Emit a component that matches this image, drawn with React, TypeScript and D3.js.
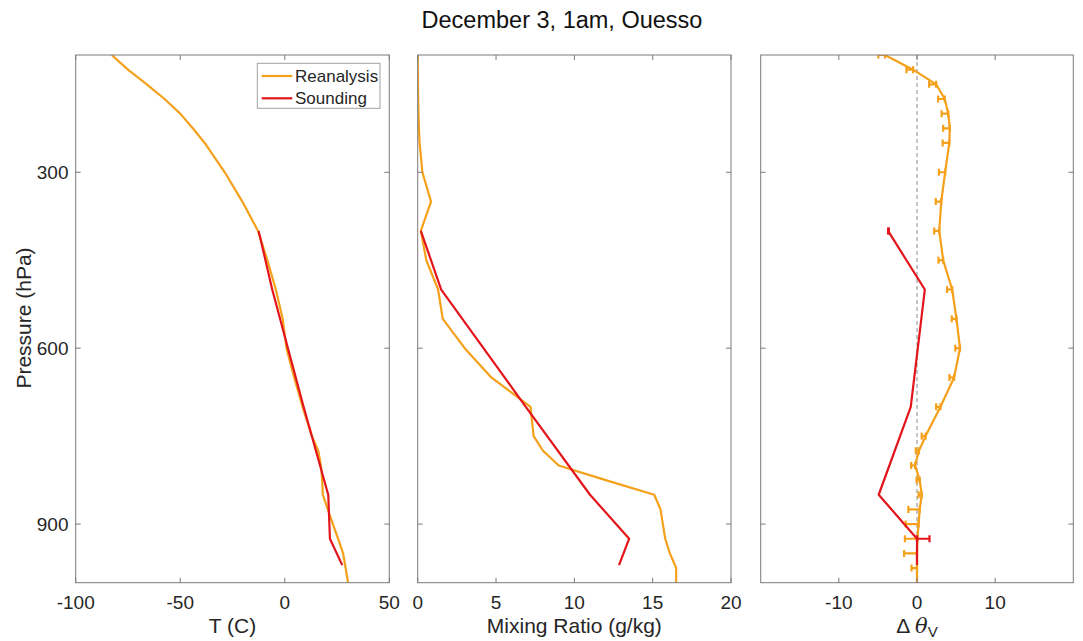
import React from 'react';
import * as d3 from 'd3';

const chartTitle = 'December 3, 1am, Ouesso';
const pressureTicks = [300, 600, 900];
const tempTicks = [-100, -50, 0, 50];
const mixTicks = [0, 5, 10, 15, 20];
const thetaTicks = [-10, 0, 10];
const legendLabels = ['Reanalysis', 'Sounding'];

const reanalysisP = [100, 125, 150, 175, 200, 225, 250, 300, 350, 400, 450, 500, 550, 600, 650, 700, 750, 775, 800, 825, 850, 875, 900, 925, 950, 975, 1000];
const reanalysisT = [-82.8, -75, -66, -57.5, -50, -44, -38.3, -28.7, -20.3, -12.8, -8.3, -4.3, -1.0, 0.8, 4.5, 8.5, 13, 16, 17.3, 17.9, 18.2, 20.6, 23.0, 25.5, 27.9, 29.1, 30.3];
const reanalysisQ = [0.0, 0.01, 0.02, 0.03, 0.05, 0.08, 0.12, 0.3, 0.85, 0.2, 0.55, 1.3, 1.6, 3.0, 4.7, 7.2, 7.4, 8.0, 9.0, 12.0, 15.1, 15.5, 15.65, 15.8, 16.1, 16.5, 16.5];
const reanalysisDTheta = [-4.1, -0.5, 2.45, 3.55, 4.0, 4.2, 4.13, 3.6, 3.1, 2.85, 3.35, 4.5, 5.05, 5.5, 4.75, 3.0, 1.1, 0.25, -0.25, 0.35, 0.6, 0.35, 0.2, 0.05, 0.0, 0.0, 0.0];
const reanalysisDThetaErr = [0.85, 0.85, 0.9, 0.85, 0.85, 0.85, 0.85, 0.8, 0.7, 0.65, 0.6, 0.65, 0.6, 0.6, 0.6, 0.55, 0.5, 0.4, 0.5, 0.4, 0.4, 1.45, 1.65, 1.6, 1.65, 0.7, null];

const soundingP = [400, 500, 700, 850, 925, 970];
const soundingT = [-12.5, -6, 9, 20.8, 21.6, 27.5];
const soundingQ = [0.2, 1.5, 6.9, 11.0, 13.5, 12.85];
const soundingDTheta = [-3.7, 1.0, -0.8, -4.9, 0.0, 0.0];
const soundingDThetaErr = [0.1, null, null, null, 1.6, null];

const ORANGE = '#F5A01A';
const RED = '#E3151C';
const AXIS = '#7a7a7a';
const TEXT = '#262626';
const FONT = 'Arial, "Liberation Sans", Helvetica, sans-serif';

const TOP = 55;
const BOTTOM = 582.7;

const panels = [
  { left: 75.7, right: 389.3, domain: [-100, 50], ticks: tempTicks, label: 'T (C)' },
  { left: 417.7, right: 731, domain: [0, 20], ticks: mixTicks, label: 'Mixing Ratio (g/kg)' },
  { left: 760.7, right: 1073.3, domain: [-20, 20], ticks: thetaTicks, label: 'theta' },
];

const y = d3.scaleLinear().domain([100, 1000]).range([TOP, BOTTOM]);

function Frame({ p, showY }: { p: any; showY: boolean }) {
  const x = d3.scaleLinear().domain(p.domain).range([p.left, p.right]);
  const tl = 5;
  return (
    <g>
      <rect x={p.left} y={TOP} width={p.right - p.left} height={BOTTOM - TOP} fill="none" stroke={AXIS} strokeWidth={1} />
      {p.ticks.map((t: number) => (
        <g key={'x' + t}>
          <line x1={x(t)} x2={x(t)} y1={BOTTOM} y2={BOTTOM - tl} stroke={AXIS} />
          <line x1={x(t)} x2={x(t)} y1={TOP} y2={TOP + tl} stroke={AXIS} />
          <text x={x(t)} y={609} textAnchor="middle" fontSize={19} fill={TEXT} fontFamily={FONT}>{t}</text>
        </g>
      ))}
      {pressureTicks.map((t) => (
        <g key={'y' + t}>
          <line x1={p.left} x2={p.left + tl} y1={y(t)} y2={y(t)} stroke={AXIS} />
          <line x1={p.right} x2={p.right - tl} y1={y(t)} y2={y(t)} stroke={AXIS} />
          {showY && (
            <text x={68.5} y={y(t) + 7} textAnchor="end" fontSize={19} fill={TEXT} fontFamily={FONT}>{t}</text>
          )}
        </g>
      ))}
    </g>
  );
}

function ErrorBars({ xs, ps, errs, x, color }: any) {
  return (
    <g>
      {xs.map((v: number, i: number) => {
        const e = errs[i];
        if (e === null || e === undefined) return null;
        const yy = y(ps[i]);
        // reanalysis errors extend to the left, sounding errors to the right
        const x0 = color === ORANGE ? x(v - e) : x(v);
        const x1 = color === ORANGE ? x(v) : x(v + e);
        return (
          <g key={i} stroke={color} strokeWidth={2.2}>
            <line x1={x0} x2={x1} y1={yy} y2={yy} />
            <line x1={x0} x2={x0} y1={yy - 3.5} y2={yy + 3.5} />
            <line x1={x1} x2={x1} y1={yy - 3.5} y2={yy + 3.5} />
          </g>
        );
      })}
    </g>
  );
}

export default function App() {
  const xT = d3.scaleLinear().domain(panels[0].domain).range([panels[0].left, panels[0].right]);
  const xQ = d3.scaleLinear().domain(panels[1].domain).range([panels[1].left, panels[1].right]);
  const xD = d3.scaleLinear().domain(panels[2].domain).range([panels[2].left, panels[2].right]);

  const mk = (xs: number[], ps: number[], sx: any) =>
    d3.line<number>().x((d) => sx(d)).y((_, i) => y(ps[i]))(xs) || '';

  return (
    <svg width={1083} height={641} style={{ position: 'absolute', left: 0, top: 0, background: '#fff' }}>
      <rect x={0} y={0} width={1083} height={641} fill="#fff" />
      <defs>
        {panels.map((p, i) => (
          <clipPath id={'clip' + i} key={i}>
            <rect x={p.left} y={TOP} width={p.right - p.left} height={BOTTOM - TOP} />
          </clipPath>
        ))}
      </defs>
      <text x={562} y={28} textAnchor="middle" fontSize={23.5} fill="#111" fontFamily={FONT}>{chartTitle}</text>

      {/* Panel 1: temperature */}
      <g clipPath="url(#clip0)" fill="none" strokeWidth={2.2} strokeLinejoin="round">
        <path d={mk(reanalysisT, reanalysisP, xT)} stroke={ORANGE} />
        <path d={mk(soundingT, soundingP, xT)} stroke={RED} />
      </g>
      <Frame p={panels[0]} showY={true} />
      <g>
        <rect x={257.3} y={63.3} width={122.7} height={45} fill="#fff" stroke="#a0a0a0" strokeWidth={1} />
        <line x1={261.7} x2={292.3} y1={76} y2={76} stroke={ORANGE} strokeWidth={2.2} />
        <line x1={261.7} x2={292.3} y1={98.3} y2={98.3} stroke={RED} strokeWidth={2.2} />
        <text x={295} y={82} fontSize={17} fill={TEXT} fontFamily={FONT}>{legendLabels[0]}</text>
        <text x={295} y={104.3} fontSize={17} fill={TEXT} fontFamily={FONT}>{legendLabels[1]}</text>
      </g>

      {/* Panel 2: mixing ratio */}
      <g clipPath="url(#clip1)" fill="none" strokeWidth={2.2} strokeLinejoin="round">
        <path d={mk(reanalysisQ, reanalysisP, xQ)} stroke={ORANGE} />
        <path d={mk(soundingQ, soundingP, xQ)} stroke={RED} />
      </g>
      <Frame p={panels[1]} showY={false} />

      {/* Panel 3: delta theta_v */}
      <line x1={xD(0)} x2={xD(0)} y1={TOP} y2={BOTTOM} stroke="#8a8a8a" strokeWidth={1} strokeDasharray="4,3" />
      <g clipPath="url(#clip2)" fill="none" strokeWidth={2.2} strokeLinejoin="round">
        <path d={mk(reanalysisDTheta, reanalysisP, xD)} stroke={ORANGE} />
        <ErrorBars xs={reanalysisDTheta} ps={reanalysisP} errs={reanalysisDThetaErr} x={xD} color={ORANGE} />
        <path d={mk(soundingDTheta, soundingP, xD)} stroke={RED} />
        <ErrorBars xs={soundingDTheta} ps={soundingP} errs={soundingDThetaErr} x={xD} color={RED} />
      </g>
      <Frame p={panels[2]} showY={false} />

      {/* axis labels */}
      <text x={(panels[0].left + panels[0].right) / 2} y={633} textAnchor="middle" fontSize={21} fill={TEXT} fontFamily={FONT}>{panels[0].label}</text>
      <text x={(panels[1].left + panels[1].right) / 2} y={633} textAnchor="middle" fontSize={21} fill={TEXT} fontFamily={FONT}>{panels[1].label}</text>
      <text x={917} y={633} textAnchor="middle" fontSize={21} fill={TEXT} fontFamily={FONT}>
        <tspan>{'Δ '}</tspan>
        <tspan fontStyle="italic" fontFamily='"DejaVu Serif", "Liberation Serif", serif'>θ</tspan>
        <tspan dy={4} fontSize={15}>V</tspan>
      </text>
      <text x={31} y={318} transform="rotate(-90, 31, 318)" textAnchor="middle" fontSize={21} fill={TEXT} fontFamily={FONT}>Pressure (hPa)</text>
    </svg>
  );
}
